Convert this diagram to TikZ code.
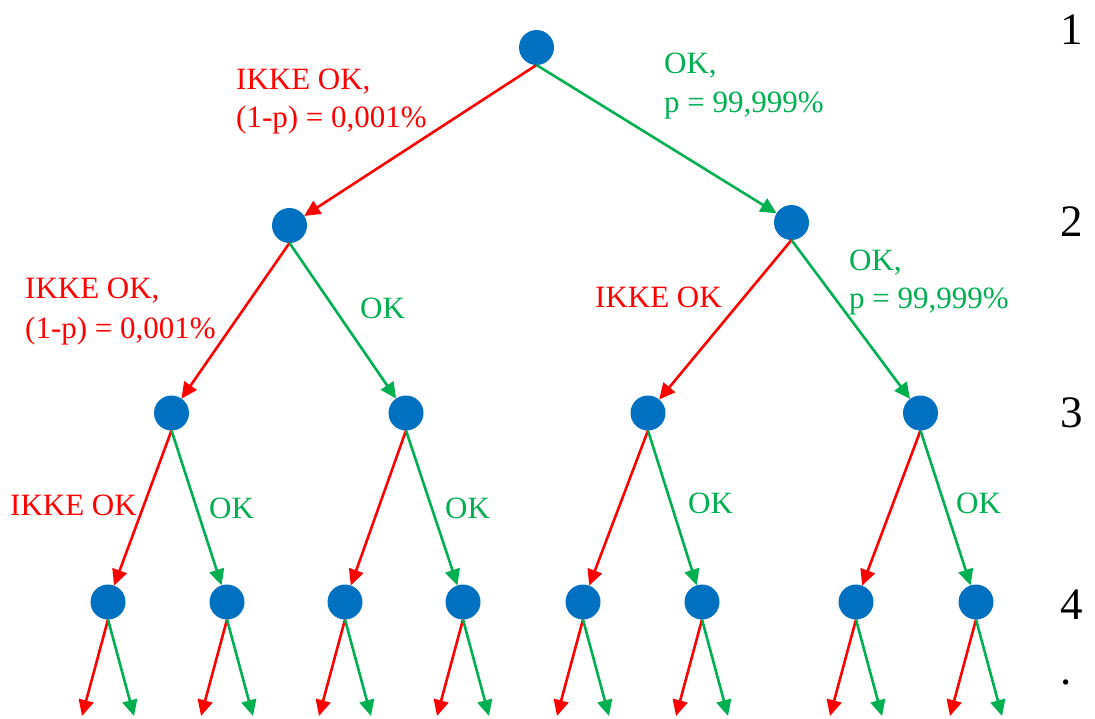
\documentclass[tikz,border=0pt]{standalone}
\usepackage{fontspec}
\setmainfont{Liberation Serif}
\newfontfamily\tnr{Liberation Serif}
\usetikzlibrary{arrows.meta}
\definecolor{okgreen}{HTML}{00B050}
\definecolor{nored}{HTML}{FF0000}
\definecolor{nodeblue}{HTML}{0070C0}
\begin{document}
\begin{tikzpicture}[x=1pt,y=-1pt,
  dot/.style={circle,fill=nodeblue,minimum size=35pt,inner sep=0pt,outer sep=0pt},
  noarrow/.style={draw=nored,line width=2.6pt,-{Triangle[length=16pt,width=15pt]}},
  yesarrow/.style={draw=okgreen,line width=2.6pt,-{Triangle[length=16pt,width=15pt]}},
  lbl/.style={font=\tnr\fontsize{31}{38}\selectfont,anchor=base west,inner sep=0pt},
  nolbl/.style={lbl,text=nored},
  yeslbl/.style={lbl,text=okgreen},
  lvl/.style={font=\tnr\fontsize{45}{50}\selectfont,anchor=base,inner sep=0pt}]
\useasboundingbox (0,0) rectangle (1095,718);
% nodes
\node[dot] (n1) at (536.5,47.5) {};
\node[dot] (n2a) at (289.5,225.5) {};
\node[dot] (n2b) at (791.5,222.5) {};
\node[dot] (n3a) at (171.5,413) {};
\node[dot] (n3b) at (406,413) {};
\node[dot] (n3c) at (648,413) {};
\node[dot] (n3d) at (920.5,413) {};
\foreach \i/\x in {1/108,2/227,3/345,4/463,5/583,6/702,7/856,8/976}{
  \node[dot] (n4\i) at (\x,602) {};
  \coordinate (r\i) at (\x-26,716);
  \coordinate (g\i) at (\x+26,716);
}
% connectors
\draw[noarrow] (n1.south) -- (n2a);
\draw[yesarrow] (n1.south) -- (n2b);
\draw[noarrow] (n2a.south) -- (n3a);
\draw[yesarrow] (n2a.south) -- (n3b);
\draw[noarrow] (n2b.south) -- (n3c);
\draw[yesarrow] (n2b.south) -- (n3d);
\draw[noarrow] (n3a.south) -- (n41);
\draw[yesarrow] (n3a.south) -- (n42);
\draw[noarrow] (n3b.south) -- (n43);
\draw[yesarrow] (n3b.south) -- (n44);
\draw[noarrow] (n3c.south) -- (n45);
\draw[yesarrow] (n3c.south) -- (n46);
\draw[noarrow] (n3d.south) -- (n47);
\draw[yesarrow] (n3d.south) -- (n48);
\foreach \i in {1,...,8}{
  \draw[noarrow] (n4\i.south) -- (r\i);
  \draw[yesarrow] (n4\i.south) -- (g\i);
}
% labels
\node[nolbl] (t1a) at (236,89) {IKKE OK,};
\node[nolbl] (t1b) at (236,127) {(1-p) = 0,001\%};
\node[yeslbl] (t2a) at (664,73) {OK,};
\node[yeslbl] (t2b) at (664,112) {p = 99,999\%};
\node[nolbl] (t3a) at (25,298) {IKKE OK,};
\node[nolbl] (t3b) at (25,338) {(1-p) = 0,001\%};
\node[yeslbl] (t4) at (360,318) {OK};
\node[nolbl] (t5) at (595,307) {IKKE OK};
\node[yeslbl] (t6a) at (849,270) {OK,};
\node[yeslbl] (t6b) at (849,308) {p = 99,999\%};
\node[nolbl] (t7) at (10,515) {IKKE OK};
\node[yeslbl] (t8) at (209,518) {OK};
\node[yeslbl] (t9) at (445,518) {OK};
\node[yeslbl] (t10) at (688,513) {OK};
\node[yeslbl] (t11) at (956,513) {OK};
% level numbers
\node[lvl] (l1) at (1072,44) {1};
\node[lvl] (l2) at (1072,236) {2};
\node[lvl] (l3) at (1072,427) {3};
\node[lvl] (l4) at (1072,619) {4};
\node[lvl] (l5) at (1066,684) {.};
\end{tikzpicture}
\end{document}
